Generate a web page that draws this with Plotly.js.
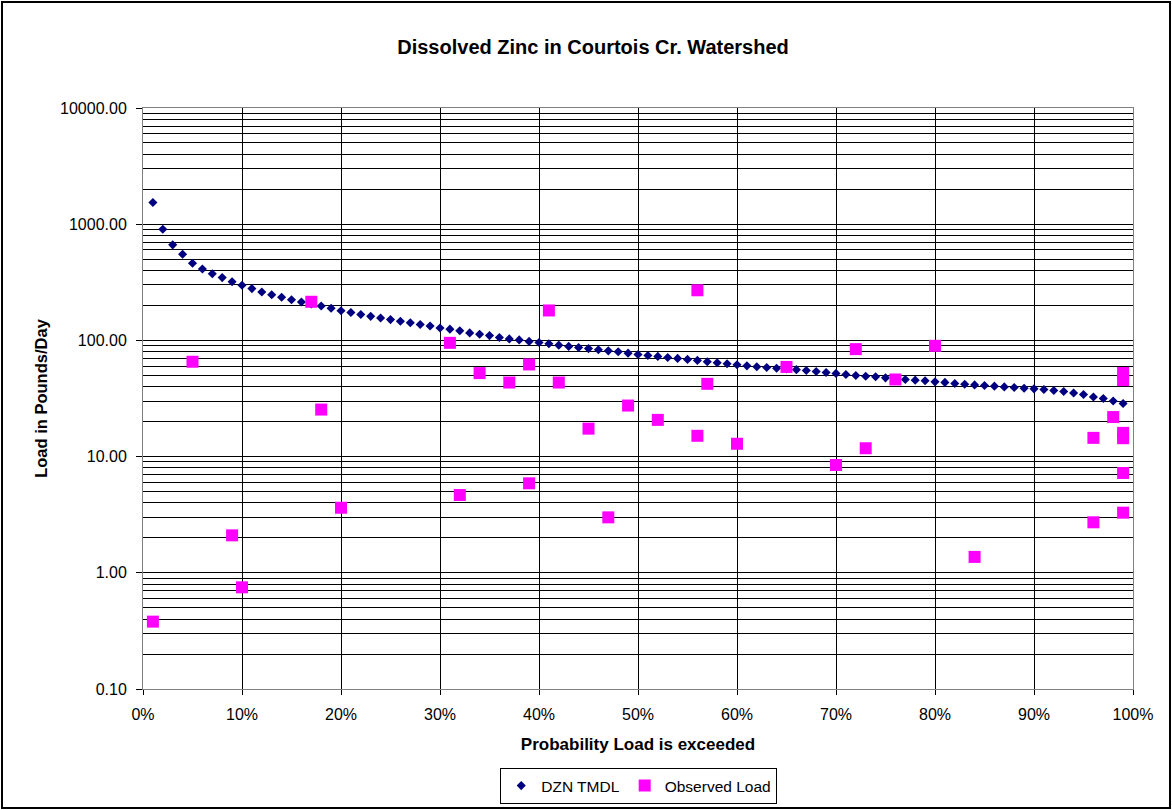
<!DOCTYPE html>
<html>
<head>
<meta charset="utf-8">
<script src="https://cdn.plot.ly/plotly-3.0.1.min.js"></script>
<style>
  html, body { margin: 0; padding: 0; background: #fff; }
  #wrap { position: relative; width: 1172px; height: 810px; }
  #chart { width: 1172px; height: 810px; }
  #frame { position: absolute; left: 1px; top: 1px; width: 1166px; height: 804px;
           border: 2px solid #000; pointer-events: none; }
</style>
</head>
<body>
<div id="wrap">
  <div id="chart"></div>
  <div id="frame"></div>
</div>
<script>
// Probability (%) that the load is exceeded, TMDL curve
const tmdlPct = [1,2,3,4,5,6,7,8,9,10,11,12,13,14,15,16,17,18,19,20,
  21,22,23,24,25,26,27,28,29,30,31,32,33,34,35,36,37,38,39,40,
  41,42,43,44,45,46,47,48,49,50,51,52,53,54,55,56,57,58,59,60,
  61,62,63,64,65,66,67,68,69,70,71,72,73,74,75,76,77,78,79,80,
  81,82,83,84,85,86,87,88,89,90,91,92,93,94,95,96,97,98,99];
// DZN TMDL load (pounds/day)
const tmdlLoad = [1535,906,664,551,461,412,375,347,320,298,
  279,261,247,235,224,214,206,198,189,180,
  174,167,161,156,151,146,142,137,133,128,
  125,121,116,113,110,106,103,101,98,96,
  93.6,91,88.8,87,85,83,81.3,79.8,77.7,75.7,
  74.2,72.8,71.3,70,68.6,67.3,65.5,64.2,62.9,61.7,
  60.4,59.3,58.4,57.6,56.8,56.0,55.1,54.0,53.0,52.0,
  50.9,49.9,49.2,48.6,47.6,46.7,46.1,45.5,44.9,44.0,
  43.5,42.6,42.0,41.4,40.9,40.4,39.8,39.3,38.8,38.3,
  37.8,37.1,36.3,35.3,34.2,32.6,31.6,30.1,28.6];

// Observed loads
const obsPct = [1,5,9,10,17,18,20,31,32,34,37,39,39,41,42,45,47,49,52,56,56,57,60,65,70,72,73,76,80,84,96,96,98,99,99,99,99,99,99];
const obsLoad = [0.38,65.5,2.1,0.75,215,25.4,3.63,95.3,4.67,52.3,43.4,62.1,5.89,181,43.4,17.4,3.0,27.5,20.7,270,15.1,42.3,12.9,59.1,8.47,84.1,11.8,46.1,89.8,1.37,14.5,2.72,21.9,52.4,45.5,16.0,14.4,7.23,3.29];

// Axis ticks
const yMajorVals = [0.1,1,10,100,1000,10000];
const yMajorText = ['0.10','1.00','10.00','100.00','1000.00','10000.00'];
const yMinorVals = [0.2,0.3,0.4,0.5,0.6,0.7,0.8,0.9,
  2,3,4,5,6,7,8,9, 20,30,40,50,60,70,80,90,
  200,300,400,500,600,700,800,900, 2000,3000,4000,5000,6000,7000,8000,9000];
const xTickVals = [0,10,20,30,40,50,60,70,80,90,100];
const xTickText = ['0%','10%','20%','30%','40%','50%','60%','70%','80%','90%','100%'];

const FONT = 'Liberation Sans, Arial, sans-serif';

const traces = [
  {
    x: tmdlPct, y: tmdlLoad, name: 'DZN TMDL', type: 'scatter', mode: 'markers',
    marker: { symbol: 'diamond', size: 7, color: '#000080', line: { width: 0 } }
  },
  {
    x: obsPct, y: obsLoad, name: 'Observed Load', type: 'scatter', mode: 'markers',
    marker: { symbol: 'square', size: 12, color: '#FF00FF', line: { width: 0 } }
  }
];

const layout = {
  width: 1172, height: 810,
  margin: { l: 143, r: 39, t: 108, b: 121 },
  paper_bgcolor: '#ffffff', plot_bgcolor: '#ffffff',
  font: { family: FONT, size: 16, color: '#000' },
  title: {
    text: '<b>Dissolved Zinc in Courtois Cr. Watershed</b>',
    font: { family: FONT, size: 20, color: '#000' },
    x: 0.506, xref: 'container', xanchor: 'center',
    y: 1 - 47/810, yref: 'container', yanchor: 'middle',
    automargin: false
  },
  xaxis: {
    automargin: false,
    range: [0, 100], tickmode: 'array', tickvals: xTickVals, ticktext: xTickText,
    showgrid: true, gridcolor: '#000', gridwidth: 1,
    showline: true, linecolor: '#808080', linewidth: 1, mirror: true,
    ticks: 'outside', ticklen: 5, tickcolor: '#000',
    ticklabelstandoff: 6,
    tickfont: { family: FONT, size: 16 },
    zeroline: false,
    title: { text: '<b>Probability Load is exceeded</b>', font: { family: FONT, size: 17 }, standoff: 15 }
  },
  yaxis: {
    automargin: false,
    type: 'log', range: [-1, 4], tickmode: 'array', tickvals: yMajorVals, ticktext: yMajorText,
    showgrid: true, gridcolor: '#000', gridwidth: 1,
    minor: { tickmode: 'array', tickvals: yMinorVals, showgrid: true, gridcolor: '#000', gridwidth: 1, ticks: '' },
    showline: true, linecolor: '#808080', linewidth: 1, mirror: true,
    ticks: 'outside', ticklen: 6, tickcolor: '#000',
    ticklabelstandoff: 6,
    tickfont: { family: FONT, size: 16 },
    zeroline: false,
    title: { text: '<b>Load in Pounds/Day</b>', font: { family: FONT, size: 16.5 }, standoff: 8 }
  },
  showlegend: true,
  legend: {
    orientation: 'h', x: 0.545, xref: 'container', xanchor: 'center',
    y: 1 - 768/810, yref: 'container', yanchor: 'top',
    bordercolor: '#000', borderwidth: 1, bgcolor: '#fff',
    font: { family: FONT, size: 15.5 }, itemwidth: 30, tracegroupgap: 0
  }
};

Plotly.newPlot('chart', traces, layout, { displayModeBar: false, staticPlot: true });
</script>
</body>
</html>
